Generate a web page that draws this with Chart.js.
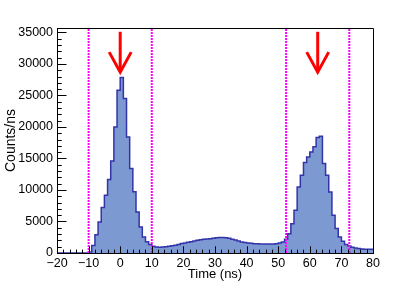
<!DOCTYPE html>
<html>
<head>
<meta charset="utf-8">
<script src="https://cdn.jsdelivr.net/npm/chart.js@4"></script>
<style>
  html, body { margin: 0; padding: 0; background: #fff; }
</style>
</head>
<body>
<canvas id="timeChart" width="415" height="282"></canvas>
<script>
// histogram: 1 ns bins starting at -20 ns
const binLow = -20
const binWidth = 1
const counts = [
  0, 0, 0, 0, 0, 0, 0, 0, 0, 0,
  160, 1190, 2900, 4900, 7200, 9160, 11650, 14600, 20000, 25840,
  27850, 24500, 18400, 13400, 9700, 6500, 4130, 2540, 1800, 1330,
  1060, 950, 920, 950, 1000, 1080, 1150, 1220, 1350, 1490,
  1600, 1700, 1780, 1900, 2020, 2100, 2180, 2220, 2280, 2350,
  2400, 2440, 2440, 2420, 2350, 2200, 2050, 1900, 1750, 1650,
  1600, 1550, 1480, 1450, 1440, 1430, 1430, 1430, 1440, 1480,
  1600, 1750, 2200, 3070, 4660, 6780, 10480, 12340, 14350, 15250,
  16040, 16840, 18320, 18530, 14190, 12340, 9690, 5990, 3870, 2540,
  1860, 1330, 1110, 900, 800, 700, 650, 600, 590, 580
]
const xTicks = [-20, -10, 0, 10, 20, 30, 40, 50, 60, 70, 80]
const yTicks = [0, 5000, 10000, 15000, 20000, 25000, 30000, 35000]
const xMin = -20
const xMax = 80
const yMax = 35700
const cutLines = [-10, 10, 52.5, 72.5]
const arrowX = [0, 62.5]
const arrowTop = 35100
const arrowTip = 28700

const histPoints = counts.map((c, i) => ({ x: binLow + i * binWidth, y: c }))
histPoints.push({ x: binLow + counts.length * binWidth, y: counts[counts.length - 1] })

const cutSets = cutLines.map(v => ({
  data: [{ x: v, y: 0 }, { x: v, y: yMax }],
  borderColor: '#ff00ff',
  borderWidth: 2,
  borderDash: [2, 1],
  pointRadius: 0,
  fill: false,
  order: 1
}))

const fontFam = "'Liberation Sans', Arial, Helvetica, sans-serif"

// ROOT style: ticks inside the frame, box around, arrows
const rootFrame = {
  id: 'rootFrame',
  afterDatasetsDraw(chart) {
    const ctx = chart.ctx
    const xs = chart.scales.x
    const ys = chart.scales.y
    ctx.save()
    ctx.strokeStyle = '#ff0000'
    ctx.lineWidth = 3
    ctx.lineJoin = 'miter'
    for (const a of arrowX) {
      const px = xs.getPixelForValue(a)
      const top = ys.getPixelForValue(arrowTop)
      const tip = ys.getPixelForValue(arrowTip)
      ctx.beginPath()
      ctx.moveTo(px, top)
      ctx.lineTo(px, tip - 1)
      ctx.stroke()
      ctx.beginPath()
      ctx.moveTo(px - 11, tip - 20)
      ctx.lineTo(px, tip)
      ctx.lineTo(px + 11, tip - 20)
      ctx.stroke()
    }
    ctx.restore()
  },
  afterDraw(chart) {
    const ctx = chart.ctx
    const xs = chart.scales.x
    const ys = chart.scales.y
    const area = chart.chartArea
    ctx.save()
    ctx.strokeStyle = '#000'
    ctx.lineWidth = 1
    ctx.beginPath()
    // x ticks, major 10 minor 2
    for (let v = xs.min; v <= xs.max + 1e-9; v += 2) {
      const px = Math.round(xs.getPixelForValue(v)) + 0.5
      const len = (v % 10 === 0) ? 6.7 : 3.4
      ctx.moveTo(px, area.bottom)
      ctx.lineTo(px, area.bottom - len)
    }
    // y ticks, major 5000 minor 1000
    for (let v = 0; v <= ys.max; v += 1000) {
      const py = Math.round(ys.getPixelForValue(v)) + 0.5
      const len = (v % 5000 === 0) ? 9.5 : 4.7
      ctx.moveTo(area.left, py)
      ctx.lineTo(area.left + len, py)
    }
    ctx.stroke()
    ctx.beginPath()
    ctx.moveTo(area.left, Math.round(area.top) + 0.5)
    ctx.lineTo(Math.round(area.right) + 0.5, Math.round(area.top) + 0.5)
    ctx.lineTo(Math.round(area.right) + 0.5, area.bottom)
    ctx.stroke()
    ctx.restore()
  }
}

const timeChart = new Chart(document.getElementById('timeChart'), {
  type: 'line',
  data: {
    datasets: [
      ...cutSets,
      {
        data: histPoints,
        stepped: true,
        borderColor: '#3333aa',
        borderWidth: 1.5,
        backgroundColor: 'rgb(125,153,209)',
        fill: 'origin',
        pointRadius: 0,
        order: 2
      }
    ]
  },
  options: {
    responsive: false,
    animation: false,
    devicePixelRatio: 1,
    layout: { padding: { left: 0, top: 28, right: 42, bottom: 0 } },
    plugins: { legend: { display: false }, tooltip: { enabled: false } },
    scales: {
      x: {
        type: 'linear',
        min: xMin,
        max: xMax,
        afterBuildTicks: s => { s.ticks = xTicks.map(v => ({ value: v })) },
        afterFit: s => { s.height = 29 },
        grid: { display: false, drawTicks: false },
        border: { display: true, color: '#000', width: 1 },
        ticks: {
          color: '#000',
          padding: 3,
          maxRotation: 0,
          autoSkip: false,
          font: { family: fontFam, size: 12.5 },
          callback: v => v < 0 ? '\u2212' + (-v) : String(v)
        },
        title: {
          display: true,
          text: 'Time (ns)',
          color: '#000',
          padding: { top: 0, bottom: 0 },
          font: { family: fontFam, size: 13 }
        }
      },
      y: {
        type: 'linear',
        min: 0,
        max: yMax,
        afterBuildTicks: s => { s.ticks = yTicks.map(v => ({ value: v })) },
        afterFit: s => { s.width = 57 },
        grid: { display: false, drawTicks: false },
        border: { display: true, color: '#000', width: 1 },
        ticks: {
          color: '#000',
          padding: 4,
          autoSkip: false,
          font: { family: fontFam, size: 12.5 },
          callback: v => String(v)
        },
        title: {
          display: true,
          text: 'Counts/ns',
          color: '#000',
          padding: { top: 2.5, bottom: 0 },
          font: { family: fontFam, size: 14 }
        }
      }
    }
  },
  plugins: [rootFrame]
})
</script>
</body>
</html>
